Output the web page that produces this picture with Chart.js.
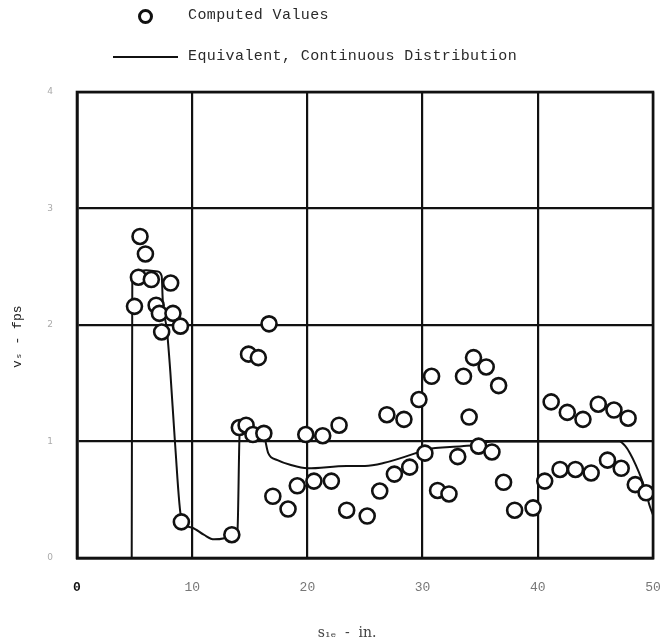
<!DOCTYPE html>
<html>
<head>
<meta charset="utf-8">
<script src="https://cdn.jsdelivr.net/npm/chart.js@4.4.1/dist/chart.umd.min.js"></script>
<style>
  html, body { margin: 0; padding: 0; background: #fff; }
  #wrap { position: relative; width: 669px; height: 642px; }
  #c { position: absolute; left: 0; top: 0; }
  .leg { position: absolute; font-family: "Liberation Mono", "DejaVu Sans Mono", monospace; font-size: 15px; letter-spacing: 0.4px; color: #2a2a2a; white-space: pre; line-height: 18px; }
  .mk { position: absolute; width: 9px; height: 9px; border: 3px solid #111; border-radius: 50%; background: #fff; }
  .ln { position: absolute; height: 2px; background: #111; }
</style>
</head>
<body>
<div id="wrap">
  <canvas id="c" width="669" height="642"></canvas>
  <div class="mk" style="left:138px; top:9px;"></div>
  <div class="leg" style="left:188px; top:7px;">Computed Values</div>
  <div class="ln" style="left:113px; top:56px; width:65px;"></div>
  <div class="leg" style="left:188px; top:48px;">Equivalent, Continuous Distribution</div>
</div>
<script>
// ---- data ----
const computedX = [5.47, 5.94, 5.33, 6.45, 8.13, 4.99, 6.87, 7.15, 8.33, 8.98, 7.35,
  9.06, 13.44, 14.09, 14.68, 15.27, 16.22, 16.67, 14.89, 15.74,
  17.0, 18.32, 19.12, 19.86, 20.57, 21.33, 22.08, 22.75, 23.41, 25.19,
  26.28, 26.9, 27.55, 28.38, 28.88, 29.68, 30.2, 30.78, 31.3, 32.29,
  33.05, 33.55, 34.04, 34.42, 34.86, 35.52, 36.02, 36.6, 37.03, 37.99,
  39.59, 40.6, 41.16, 41.93, 42.56, 43.27, 43.92, 44.63, 45.25, 46.05,
  46.61, 47.24, 47.84, 48.46, 49.4];
const computedY = [2.76, 2.61, 2.41, 2.39, 2.36, 2.16, 2.17, 2.10, 2.10, 1.99, 1.94,
  0.31, 0.20, 1.12, 1.14, 1.06, 1.07, 2.01, 1.75, 1.72,
  0.53, 0.42, 0.62, 1.06, 0.66, 1.05, 0.66, 1.14, 0.41, 0.36,
  0.575, 1.23, 0.72, 1.19, 0.78, 1.36, 0.90, 1.56, 0.58, 0.55,
  0.87, 1.56, 1.21, 1.72, 0.96, 1.64, 0.91, 1.48, 0.65, 0.41,
  0.43, 0.66, 1.34, 0.76, 1.25, 0.76, 1.19, 0.73, 1.32, 0.84,
  1.27, 0.77, 1.20, 0.63, 0.56];

const curveX = [4.75, 4.8, 5.0, 6.0, 7.0, 7.35, 7.45, 7.8, 8.1, 8.5, 9.06, 10.0, 11.0, 11.9, 12.8, 13.6, 13.93, 14.13,
  14.5, 15.5, 16.2, 16.6, 17.4, 18.5, 20.0, 23.4, 25.0, 26.6, 29.4, 30.2, 33.4, 34.6, 36.0, 40.0, 47.1,
  47.6, 48.0, 48.5, 49.0, 49.4, 49.7, 50.0];
const curveY = [0.0, 2.38, 2.45, 2.47, 2.46, 2.42, 2.2, 1.96, 1.6, 1.0, 0.34, 0.26, 0.2, 0.16, 0.17, 0.2, 0.24, 1.10,
  1.15, 1.1, 1.06, 0.9, 0.84, 0.8, 0.77, 0.79, 0.79, 0.815, 0.9, 0.93, 0.96, 0.97, 1.0, 1.0, 1.0,
  0.96, 0.9, 0.8, 0.68, 0.56, 0.45, 0.37];

const xTicks = [0, 10, 20, 30, 40, 50];
const yTicks = [0, 1, 2, 3, 4];

const computedPts = computedX.map((x, i) => ({ x: x, y: computedY[i] }));
const curvePts = curveX.map((x, i) => ({ x: x, y: curveY[i] }));

new Chart(document.getElementById('c'), {
  type: 'scatter',
  data: {
    datasets: [
      {
        label: 'Computed Values',
        data: computedPts,
        pointRadius: 7.5,
        pointHoverRadius: 7.5,
        pointBorderWidth: 2.6,
        pointBorderColor: '#111',
        pointBackgroundColor: '#fff',
        showLine: false,
        order: 1
      },
      {
        label: 'Equivalent, Continuous Distribution',
        data: curvePts,
        showLine: true,
        borderColor: '#111',
        borderWidth: 2,
        pointRadius: 0,
        tension: 0,
        cubicInterpolationMode: 'monotone',
        order: 2
      }
    ]
  },
  options: {
    responsive: false,
    animation: false,
    events: [],
    layout: { padding: { top: 92, right: 16, left: 0, bottom: 0 } },
    plugins: { legend: { display: false }, tooltip: { enabled: false } },
    scales: {
      x: {
        type: 'linear',
        min: 0, max: 50,
        afterBuildTicks: (s) => { s.ticks = xTicks.map(v => ({ value: v })); },
        afterFit: (s) => { s.height = 84; s.paddingLeft = 0; s.paddingRight = 0; },
        grid: { color: '#111', lineWidth: 2.2, drawTicks: false },
        border: { color: '#111', width: 2.6 },
        ticks: {
          padding: 22,
          color: (c) => c.tick && c.tick.value === 0 ? '#111' : '#777',
          font: (c) => ({ family: '"Liberation Mono", "DejaVu Sans Mono", monospace', size: 13, weight: (c.tick && c.tick.value === 0) ? 'bold' : 'normal' })
        },
        title: {
          display: true,
          text: 's\u2081\u2091  -  in.        ',
          color: '#444',
          font: { family: '"DejaVu Serif", serif', size: 14 },
          padding: { top: 11, bottom: 0 }
        }
      },
      y: {
        type: 'linear',
        min: 0, max: 4,
        afterBuildTicks: (s) => { s.ticks = yTicks.map(v => ({ value: v })); },
        afterFit: (s) => { s.width = 77; s.paddingTop = 0; s.paddingBottom = 0; },
        grid: { color: '#111', lineWidth: 2.2, drawTicks: false },
        border: { color: '#111', width: 2.6 },
        ticks: {
          padding: 24,
          color: '#aaa',
          font: { family: '"DejaVu Sans", sans-serif', size: 9 }
        },
        title: {
          display: true,
          text: 'v\u209B - fps   ',
          color: '#222',
          font: { family: '"Liberation Mono", "DejaVu Sans Mono", monospace', size: 13 },
          padding: { top: 10, bottom: 0 }
        }
      }
    }
  },
  plugins: [{
    id: 'frame',
    afterDraw(chart) {
      const a = chart.chartArea, ctx = chart.ctx;
      ctx.save();
      ctx.strokeStyle = '#111';
      ctx.lineWidth = 2.6;
      ctx.strokeRect(a.left, a.top, a.right - a.left, a.bottom - a.top);
      ctx.restore();
    }
  }]
});
</script>
</body>
</html>
